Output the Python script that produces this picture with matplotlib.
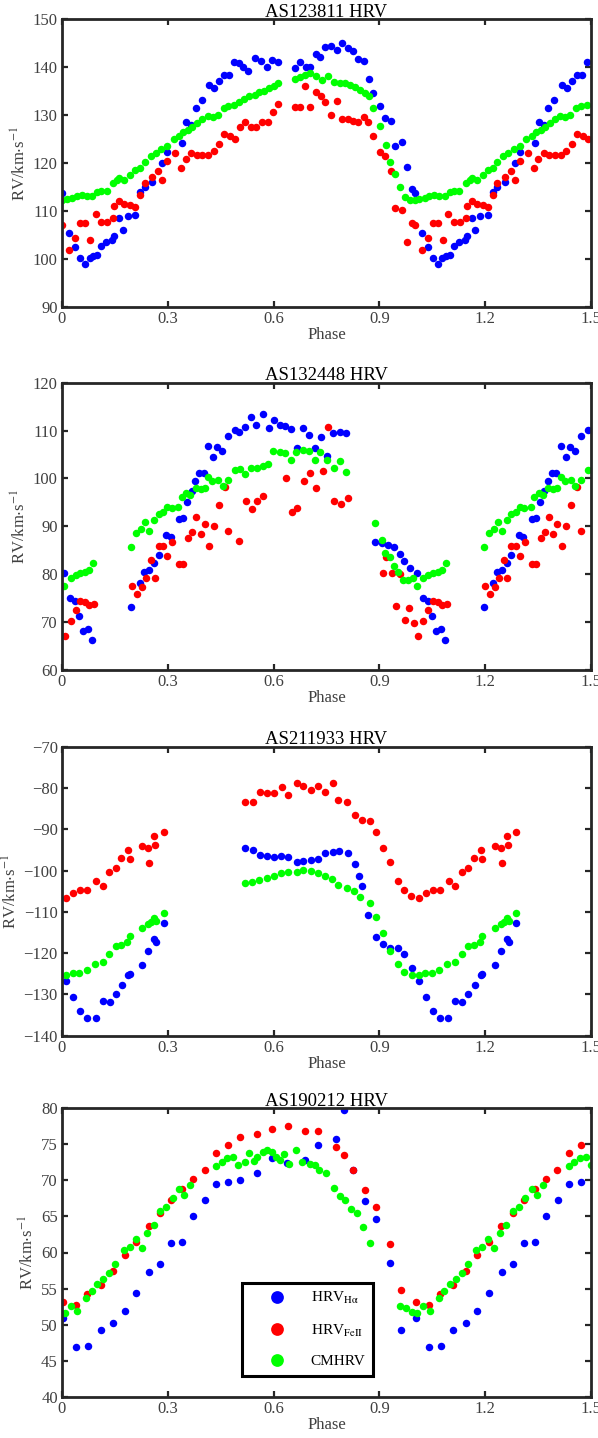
"""Phase-folded HRV curves for four stars (blue: H-alpha, red: FeII, green: CM)."""

import matplotlib
matplotlib.use("Agg")
import matplotlib.pyplot as plt
import numpy as np

plt.rcParams["font.family"] = ["Liberation Serif", "DejaVu Serif"]
plt.rcParams["mathtext.fontset"] = "stix"

# ---- AS123811 ----
p1_blue_ph = [0.000, 0.021, 0.038, 0.051, 0.066, 0.078, 0.089, 0.099, 0.111, 0.125, 0.142, 0.147,
              0.162, 0.172, 0.186, 0.208, 0.221, 0.234, 0.256, 0.284, 0.298, 0.341, 0.352, 0.367,
              0.379, 0.396, 0.418, 0.432, 0.446, 0.460, 0.474, 0.489, 0.503, 0.512, 0.527, 0.548,
              0.565, 0.581, 0.595, 0.612, 0.660, 0.674, 0.693, 0.703, 0.719, 0.731, 0.745, 0.762,
              0.779, 0.795, 0.810, 0.826, 0.839, 0.855, 0.871, 0.883, 0.902, 0.916, 0.932, 0.945,
              0.964, 0.978, 0.992]
p1_blue = [113.8, 105.4, 102.5, 100.3, 99.0, 100.2, 100.6, 100.8, 102.8, 103.5, 103.9, 104.9,
           108.5, 106.1, 108.9, 109.2, 113.9, 115.0, 116.0, 120.0, 122.4, 124.2, 128.5, 128.0,
           131.5, 133.2, 136.3, 135.6, 137.2, 138.4, 138.4, 141.0, 140.8, 140.1, 139.2, 141.9,
           141.3, 140.1, 141.5, 141.0, 139.8, 141.0, 140.1, 140.1, 142.8, 142.2, 144.3, 144.4,
           143.6, 145.1, 144.0, 143.3, 141.7, 141.3, 137.5, 134.7, 131.9, 129.4, 128.7, 123.5,
           124.5, 119.3, 114.6]
p1_red_ph = [0.000, 0.021, 0.038, 0.051, 0.066, 0.080, 0.095, 0.111, 0.129, 0.146, 0.148, 0.162,
             0.177, 0.194, 0.208, 0.221, 0.234, 0.256, 0.272, 0.284, 0.298, 0.321, 0.337, 0.351,
             0.367, 0.382, 0.398, 0.414, 0.430, 0.446, 0.460, 0.477, 0.491, 0.504, 0.520, 0.536,
             0.550, 0.567, 0.584, 0.598, 0.612, 0.660, 0.674, 0.688, 0.703, 0.719, 0.733, 0.745,
             0.762, 0.779, 0.795, 0.810, 0.826, 0.839, 0.855, 0.869, 0.883, 0.902, 0.916, 0.932,
             0.945, 0.964, 0.978, 0.992]
p1_red = [107.0, 101.9, 104.4, 107.6, 107.6, 104.0, 109.4, 107.8, 107.8, 108.5, 111.0, 112.2,
          111.5, 111.3, 110.8, 113.4, 115.8, 117.2, 118.4, 116.5, 120.5, 122.1, 119.0, 120.8,
          122.1, 121.6, 121.6, 121.7, 122.6, 124.0, 126.1, 125.7, 125.1, 127.6, 128.5, 127.6,
          127.6, 128.5, 128.5, 130.6, 132.4, 131.7, 131.8, 136.1, 131.8, 134.9, 133.9, 132.8,
          130.1, 133.0, 129.2, 129.2, 128.8, 128.5, 129.7, 128.5, 125.6, 122.4, 121.4, 118.3,
          110.6, 110.3, 103.5, 107.5]
p1_green_ph = [0.000, 0.013, 0.028, 0.042, 0.056, 0.070, 0.085, 0.099, 0.111, 0.127, 0.146, 0.156,
               0.162, 0.177, 0.194, 0.208, 0.222, 0.234, 0.251, 0.266, 0.281, 0.298, 0.317, 0.332,
               0.344, 0.357, 0.370, 0.384, 0.398, 0.413, 0.427, 0.441, 0.458, 0.472, 0.489, 0.503,
               0.517, 0.531, 0.546, 0.560, 0.574, 0.588, 0.601, 0.612, 0.660, 0.674, 0.688, 0.703,
               0.719, 0.736, 0.755, 0.772, 0.788, 0.802, 0.816, 0.831, 0.845, 0.859, 0.871, 0.883,
               0.902, 0.918, 0.931, 0.945, 0.959, 0.973, 0.988]
p1_green = [112.4, 112.5, 112.7, 113.1, 113.4, 113.1, 113.1, 113.9, 114.1, 114.1, 115.8, 116.4,
            116.9, 116.5, 117.6, 118.6, 119.0, 120.2, 121.4, 122.1, 122.9, 123.5, 125.0, 125.7,
            126.4, 126.9, 127.6, 128.3, 129.2, 129.9, 129.6, 130.1, 131.5, 131.9, 132.2, 132.8,
            133.3, 133.9, 134.2, 134.9, 135.1, 135.6, 136.1, 136.8, 137.5, 137.9, 138.4, 138.8,
            138.1, 137.4, 138.2, 137.0, 136.8, 136.7, 136.3, 135.8, 135.3, 134.6, 133.9, 131.5,
            127.8, 123.8, 120.3, 117.8, 115.0, 112.9, 112.4]

# ---- AS132448 ----
p2_blue_ph = [0.007, 0.024, 0.037, 0.049, 0.060, 0.074, 0.086, 0.196, 0.221, 0.233, 0.248, 0.262,
              0.274, 0.296, 0.308, 0.332, 0.343, 0.355, 0.368, 0.377, 0.388, 0.402, 0.414, 0.428,
              0.440, 0.454, 0.472, 0.491, 0.503, 0.519, 0.535, 0.551, 0.569, 0.586, 0.600, 0.617,
              0.633, 0.649, 0.666, 0.683, 0.699, 0.716, 0.734, 0.751, 0.768, 0.787, 0.806, 0.888,
              0.907, 0.923, 0.940, 0.957, 0.970, 0.987]
p2_blue = [80.2, 75.0, 74.5, 71.3, 68.2, 68.5, 66.3, 73.2, 78.1, 80.4, 80.8, 82.3,
           84.0, 88.2, 87.8, 91.5, 91.7, 95.0, 97.4, 99.5, 101.1, 101.1, 106.8, 104.4,
           106.6, 105.7, 108.9, 110.1, 109.8, 110.8, 112.8, 111.2, 113.5, 110.5, 112.2, 111.2,
           111.0, 110.3, 106.3, 110.5, 109.1, 106.3, 108.7, 104.6, 109.4, 109.6, 109.4, 86.8,
           86.6, 86.1, 85.6, 84.2, 82.8, 81.2]
p2_red_ph = [0.009, 0.025, 0.039, 0.051, 0.065, 0.077, 0.091, 0.199, 0.213, 0.227, 0.238, 0.252,
             0.263, 0.274, 0.287, 0.299, 0.313, 0.332, 0.344, 0.358, 0.369, 0.381, 0.393, 0.405,
             0.418, 0.430, 0.444, 0.461, 0.471, 0.502, 0.522, 0.538, 0.554, 0.571, 0.636, 0.652,
             0.666, 0.687, 0.704, 0.721, 0.740, 0.753, 0.772, 0.791, 0.810, 0.909, 0.920, 0.935,
             0.947, 0.958, 0.973, 0.985, 0.997]
p2_red = [67.0, 70.2, 72.5, 74.5, 74.3, 73.6, 73.7, 77.6, 75.8, 77.4, 79.2, 83.0,
          79.2, 85.8, 85.8, 83.9, 86.8, 82.1, 82.1, 87.5, 88.8, 91.9, 88.3, 90.5,
          85.9, 90.1, 94.5, 98.3, 89.0, 86.9, 95.2, 93.6, 95.2, 96.3, 100.2, 92.9,
          93.9, 99.5, 101.2, 98.1, 101.6, 110.8, 95.2, 94.6, 95.9, 80.3, 83.5, 80.3,
          73.4, 80.0, 70.5, 72.9, 69.8]
p2_green_ph = [0.007, 0.025, 0.039, 0.052, 0.065, 0.077, 0.088, 0.197, 0.210, 0.224, 0.236, 0.248,
               0.262, 0.274, 0.287, 0.299, 0.311, 0.330, 0.339, 0.352, 0.364, 0.379, 0.393, 0.405,
               0.414, 0.426, 0.443, 0.456, 0.471, 0.491, 0.505, 0.519, 0.535, 0.552, 0.571, 0.585,
               0.599, 0.617, 0.633, 0.649, 0.664, 0.683, 0.699, 0.716, 0.732, 0.751, 0.770, 0.787,
               0.806, 0.888, 0.907, 0.916, 0.929, 0.942, 0.954, 0.966, 0.982, 0.994]
p2_green = [77.6, 79.2, 79.9, 80.3, 80.5, 80.8, 82.4, 85.6, 88.7, 89.4, 91.0, 89.1,
            91.4, 92.6, 92.9, 94.0, 93.9, 94.1, 96.1, 97.0, 96.5, 98.1, 97.9, 98.1,
            100.4, 99.5, 99.7, 98.4, 99.7, 101.8, 101.9, 100.9, 102.1, 102.1, 102.5, 103.0,
            105.8, 105.6, 105.4, 103.9, 105.6, 105.9, 105.8, 103.9, 105.6, 103.9, 102.1, 103.7,
            101.4, 90.8, 87.2, 84.5, 83.5, 81.7, 80.5, 78.7, 78.8, 79.2]

# ---- AS211933 ----
p3_blue_ph = [0.011, 0.032, 0.051, 0.071, 0.095, 0.115, 0.135, 0.152, 0.171, 0.187, 0.192, 0.228,
              0.244, 0.262, 0.267, 0.288, 0.519, 0.543, 0.562, 0.581, 0.600, 0.620, 0.642, 0.666,
              0.684, 0.705, 0.727, 0.746, 0.768, 0.786, 0.812, 0.831, 0.841, 0.850, 0.869, 0.890,
              0.910, 0.931, 0.954, 0.970, 0.992]
p3_blue = [-126.8, -130.6, -134.0, -135.8, -135.6, -131.6, -131.9, -129.9, -127.7, -125.3, -125.1, -122.9,
           -119.5, -116.6, -117.3, -112.8, -94.6, -94.9, -96.2, -96.4, -96.6, -96.4, -96.8, -97.9,
           -97.7, -97.4, -97.3, -95.8, -95.4, -95.3, -95.8, -98.3, -101.2, -103.7, -110.8, -116.0,
           -117.9, -118.7, -118.7, -120.1, -123.5]
p3_red_ph = [0.011, 0.032, 0.051, 0.071, 0.096, 0.115, 0.134, 0.152, 0.168, 0.187, 0.192, 0.228,
             0.244, 0.247, 0.262, 0.265, 0.288, 0.519, 0.543, 0.562, 0.581, 0.600, 0.623, 0.642,
             0.666, 0.684, 0.705, 0.727, 0.746, 0.768, 0.784, 0.809, 0.831, 0.850, 0.872, 0.890,
             0.910, 0.931, 0.954, 0.970, 0.990]
p3_red = [-106.6, -105.5, -104.7, -104.7, -102.5, -103.7, -100.3, -99.5, -96.9, -94.9, -97.3, -94.0,
          -94.5, -98.1, -91.6, -93.8, -90.6, -83.3, -83.3, -80.9, -81.3, -81.3, -79.7, -81.7,
          -78.9, -79.4, -80.5, -79.5, -80.9, -78.9, -82.9, -83.5, -86.6, -87.8, -88.0, -90.7,
          -94.5, -98.0, -102.5, -104.6, -106.1]
p3_green_ph = [0.011, 0.030, 0.049, 0.070, 0.093, 0.115, 0.134, 0.152, 0.168, 0.185, 0.192, 0.228,
               0.244, 0.253, 0.262, 0.267, 0.288, 0.519, 0.538, 0.560, 0.581, 0.600, 0.620, 0.642,
               0.666, 0.684, 0.705, 0.727, 0.746, 0.765, 0.784, 0.809, 0.828, 0.845, 0.872, 0.890,
               0.910, 0.929, 0.952, 0.970, 0.992]
p3_green = [-125.3, -124.7, -124.7, -124.1, -122.7, -122.2, -120.3, -118.2, -118.0, -117.2, -115.8, -113.8,
            -113.0, -112.4, -111.6, -112.2, -110.2, -102.9, -102.7, -102.3, -101.9, -101.2, -100.7, -100.3,
            -100.3, -99.9, -100.1, -100.7, -101.3, -102.1, -103.5, -104.2, -105.0, -106.3, -107.9, -111.2,
            -115.2, -119.5, -122.7, -124.5, -125.3]

# ---- AS190212 ----
p4_blue_ph = [0.004, 0.040, 0.074, 0.110, 0.145, 0.178, 0.211, 0.248, 0.279, 0.310, 0.341, 0.371,
              0.406, 0.438, 0.472, 0.506, 0.552, 0.595, 0.637, 0.689, 0.727, 0.777, 0.800, 0.825,
              0.858, 0.891, 0.929, 0.962]
p4_blue = [50.9, 46.9, 47.1, 49.3, 50.2, 51.9, 54.4, 57.3, 58.4, 61.3, 61.5, 65.0,
           67.3, 69.5, 69.8, 70.1, 71.0, 73.1, 72.4, 72.8, 74.9, 75.7, 79.7, 71.5,
           67.2, 64.6, 58.5, 49.2]
p4_red_ph = [0.004, 0.041, 0.072, 0.110, 0.145, 0.178, 0.211, 0.246, 0.279, 0.310, 0.341, 0.371,
             0.405, 0.438, 0.472, 0.506, 0.552, 0.595, 0.642, 0.689, 0.727, 0.777, 0.800, 0.825,
             0.858, 0.891, 0.929, 0.962]
p4_red = [53.1, 52.7, 54.3, 55.5, 57.4, 59.7, 61.5, 63.7, 65.5, 67.3, 68.8, 70.2,
          71.4, 73.8, 74.9, 76.0, 76.5, 77.1, 77.5, 76.9, 76.8, 74.7, 73.5, 71.5,
          68.7, 66.3, 61.2, 54.8]
p4_green_ph = [0.008, 0.025, 0.043, 0.068, 0.084, 0.100, 0.117, 0.134, 0.151, 0.175, 0.192, 0.209,
               0.226, 0.242, 0.260, 0.278, 0.295, 0.314, 0.333, 0.347, 0.364, 0.437, 0.453, 0.469,
               0.485, 0.500, 0.519, 0.531, 0.545, 0.554, 0.569, 0.580, 0.595, 0.607, 0.618, 0.629,
               0.645, 0.664, 0.680, 0.702, 0.718, 0.730, 0.749, 0.770, 0.787, 0.803, 0.819, 0.836,
               0.853, 0.872, 0.959, 0.976, 0.992]
p4_green = [51.6, 52.6, 51.9, 53.7, 54.7, 55.7, 56.3, 57.2, 58.4, 60.4, 60.7, 61.9,
            60.6, 62.7, 63.8, 65.7, 66.3, 67.5, 68.8, 68.0, 69.4, 72.0, 72.6, 73.1,
            73.3, 72.1, 72.6, 73.8, 72.7, 73.3, 74.0, 74.2, 74.0, 73.3, 72.8, 73.7,
            72.3, 74.2, 72.6, 72.3, 72.1, 71.4, 71.0, 68.9, 67.8, 67.3, 66.1, 65.5,
            63.6, 61.3, 52.6, 52.3, 51.7]

titles = ["AS123811 HRV", "AS132448 HRV", "AS211933 HRV", "AS190212 HRV"]
ylims = [(90, 150), (60, 120), (-140, -70), (40, 80)]
ysteps = [10, 10, 10, 5]
xticks = [0, 0.3, 0.6, 0.9, 1.2, 1.5]
xticklabels = ["0", "0.3", "0.6", "0.9", "1.2", "1.5"]
labels = ["HRV$_{\\mathrm{H\\alpha}}$", "HRV$_{\\mathrm{FeII}}$", "CMHRV"]
colors = ["#0000ff", "#ff0000", "#00ff00"]

panels = [
    [(p1_blue_ph, p1_blue), (p1_red_ph, p1_red), (p1_green_ph, p1_green)],
    [(p2_blue_ph, p2_blue), (p2_red_ph, p2_red), (p2_green_ph, p2_green)],
    [(p3_blue_ph, p3_blue), (p3_red_ph, p3_red), (p3_green_ph, p3_green)],
    [(p4_blue_ph, p4_blue), (p4_red_ph, p4_red), (p4_green_ph, p4_green)],
]


def fold(ph, v):
    # repeat the first half cycle after phase 1, as in the original plot
    ph = np.asarray(ph)
    v = np.asarray(v)
    m = ph <= 0.5
    return np.concatenate([ph, ph[m] + 1.0]), np.concatenate([v, v[m]])


W, H = 598, 1438
fig = plt.figure(figsize=(W / 100, H / 100), dpi=100)
# axes boxes in pixels: (top, bottom)
boxes = [(19.3, 307.0), (382.7, 670.0), (746.7, 1035.7), (1108.3, 1396.7)]
left_px, right_px = 62, 591
tick_gray = "#404040"

for i, (top, bot) in enumerate(boxes):
    ax = fig.add_axes([left_px / W, 1 - bot / H, (right_px - left_px) / W, (bot - top) / H])
    for j, (ph, v) in enumerate(panels[i]):
        x, y = fold(ph, v)
        ax.plot(x, y, "o", ls="none", ms=5.4, mec="none", color=colors[j], label=labels[j])
    ax.set_xlim(0, 1.5)
    ax.set_ylim(*ylims[i])
    ax.set_xticks(xticks)
    ax.set_xticklabels(xticklabels)
    ax.set_yticks(np.arange(ylims[i][0], ylims[i][1] + 0.1, ysteps[i]))
    ax.tick_params(direction="in", length=4, width=1.6, top=True, right=True,
                   labelsize=12, labelcolor=tick_gray, pad=3, color="#262626")
    for s in ax.spines.values():
        s.set_linewidth(2.0)
        s.set_color("#262626")
    ax.set_title(titles[i], fontsize=13.5, pad=2)
    ax.set_xlabel("Phase", fontsize=12, color=tick_gray, labelpad=0)
    ax.set_ylabel("RV/km$\\cdot$s$^{-1}$", fontsize=12, color=tick_gray, labelpad=2)
    if i == 3:
        leg = ax.legend(loc="lower left", bbox_to_anchor=(0.34, 0.072), borderaxespad=0,
                        fontsize=11, markerscale=1.7, frameon=True, fancybox=False,
                        framealpha=1, edgecolor="black", handlelength=3.6,
                        handletextpad=0.4, labelspacing=1.05, borderpad=0.5)
        leg.get_frame().set_linewidth(2.2)

fig.savefig("out.png", dpi=100)
